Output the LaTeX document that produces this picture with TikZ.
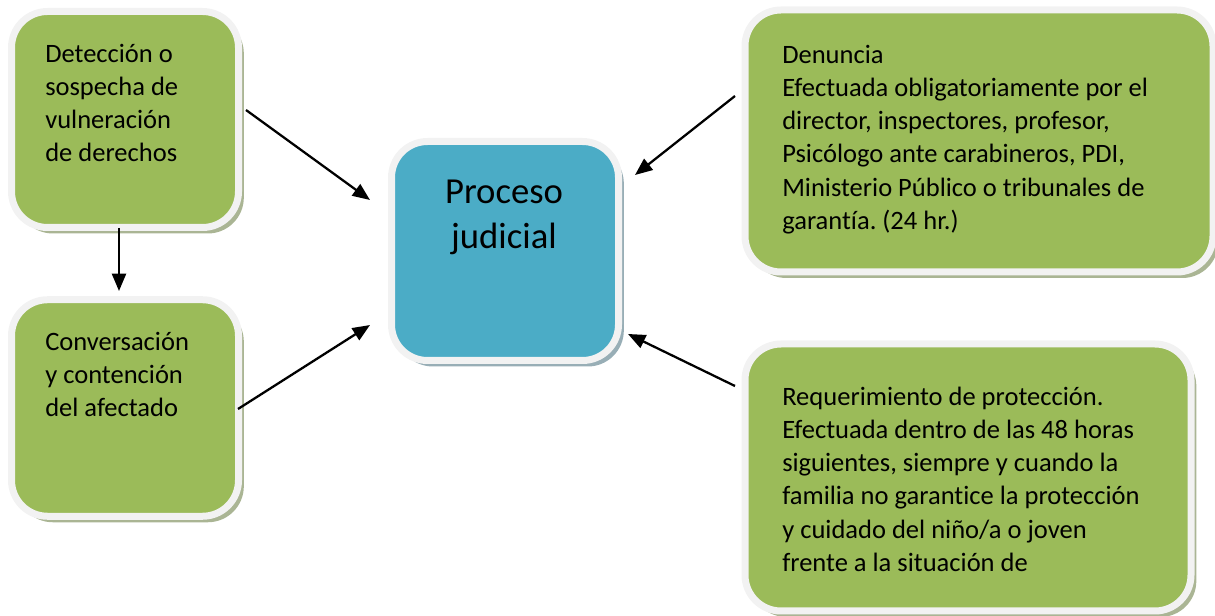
\documentclass[tikz,border=0pt]{standalone}
\usepackage{fontspec}
\setmainfont{Carlito}[Ligatures={NoCommon}]
\frenchspacing
\usetikzlibrary{arrows.meta,shadows}
\definecolor{boxgreen}{HTML}{9BBB59}
\definecolor{boxblue}{HTML}{4BACC6}
\definecolor{shgreen}{HTML}{AAB594}
\definecolor{shblue}{HTML}{98AEB6}
\definecolor{rim}{HTML}{F2F2F2}
\begin{document}
\begin{tikzpicture}[x=0.75pt,y=-0.75pt,
  box/.style={rectangle, rounded corners=27pt, draw=rim, line width=5.25pt, inner sep=0pt},
  gbox/.style={box, fill=boxgreen, drop shadow={shadow xshift=4pt, shadow yshift=-4.5pt, fill=shgreen, opacity=1}},
  bbox/.style={box, fill=boxblue, drop shadow={shadow xshift=4pt, shadow yshift=-4.5pt, fill=shblue, opacity=1}},
  txt/.style={anchor=north west, inner sep=0pt, align=left, font=\fontsize{19.9pt}{24.9pt}\selectfont},
  bigtxt/.style={anchor=north, inner sep=0pt, align=center, font=\fontsize{27.5pt}{33.75pt}\selectfont},
  arr/.style={line width=1.7pt, -{Triangle[length=13pt,width=10.5pt]}}]
\useasboundingbox (0,0) rectangle (1215,616);

\node[gbox, minimum width=170.25pt, minimum height=162pt] (A) at (125,119.5) {};
\node[gbox, minimum width=170.25pt, minimum height=162.4pt] (B) at (125,408) {};
\node[bbox, minimum width=170.25pt, minimum height=164.25pt] (P) at (505,251) {};
\node[gbox, minimum width=351pt, minimum height=196.5pt] (D) at (979,141) {};
\node[gbox, minimum width=334.5pt, minimum height=200.25pt] (R) at (968,477.5) {};

\node[txt] (Atxt) at (45,40.7) {\rule{0pt}{16pt}Detección o\\sospecha de\\vulneración\\de derechos};
\node[txt] (Btxt) at (45,328.7) {\rule{0pt}{16pt}Conversación\\y contención\\del afectado};
\node[bigtxt] (Ptxt) at (504,175) {\rule{0pt}{21pt}Proceso\\judicial};
\node[txt] (Dtxt) at (782,41.7) {\rule{0pt}{16pt}Denuncia\\Efectuada obligatoriamente por el\\director, inspectores, profesor,\\Psicólogo ante carabineros, PDI,\\Ministerio Público o tribunales de\\garantía. (24 hr.)};
\node[txt] (Rtxt) at (782,383.7) {\rule{0pt}{16pt}Requerimiento de protección.\\Efectuada dentro de las 48 horas\\siguientes, siempre y cuando la\\familia no garantice la protección\\y cuidado del niño/a o joven\\frente a la situación de};

\coordinate (a1s) at (246,110);
\coordinate (a1e) at (370,200);
\coordinate (a2s) at (238,409);
\coordinate (a2e) at (370,325);
\coordinate (a3s) at (119,228);
\coordinate (a3e) at (119,291);
\coordinate (a4s) at (735,96);
\coordinate (a4e) at (635,175);
\coordinate (a5s) at (735,386);
\coordinate (a5e) at (628,334);

\draw[arr] (a1s) -- (a1e);
\draw[arr] (a2s) -- (a2e);
\draw[arr] (a3s) -- (a3e);
\draw[arr] (a4s) -- (a4e);
\draw[arr] (a5s) -- (a5e);
\end{tikzpicture}
\end{document}
